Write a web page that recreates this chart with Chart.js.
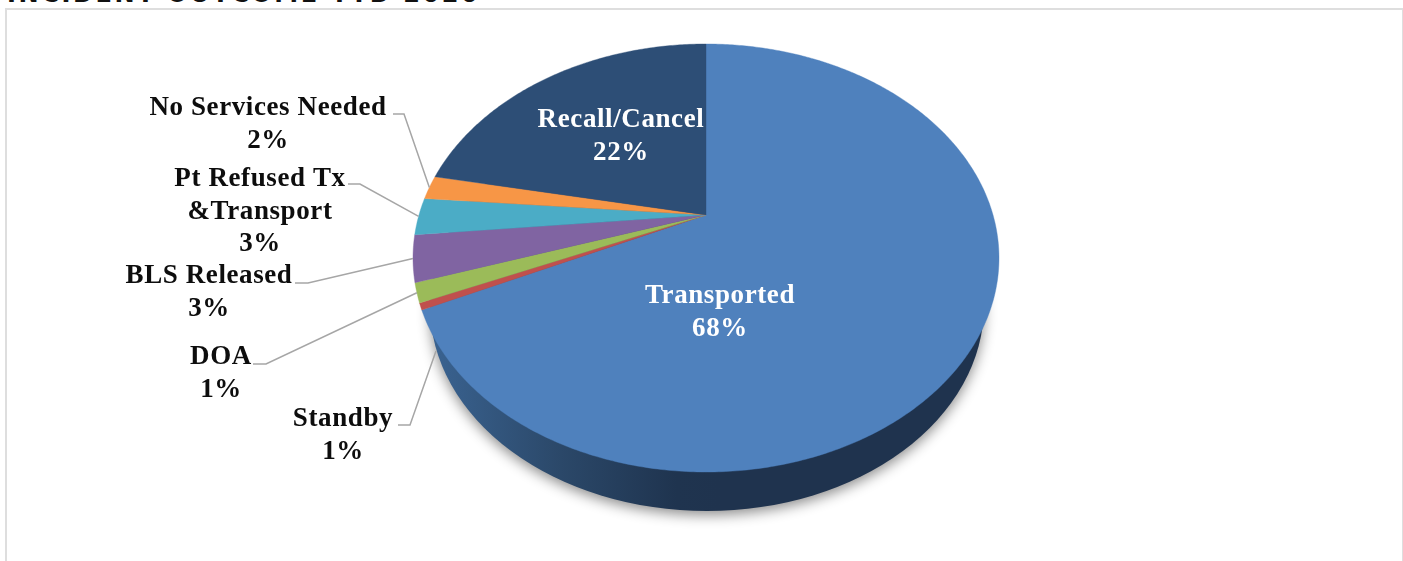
<!DOCTYPE html>
<html>
<head>
<meta charset="utf-8">
<title>Incident Outcome YTD 2020</title>
<script src="https://cdn.jsdelivr.net/npm/chart.js@4"></script>
<style>
  html, body { margin: 0; padding: 0; background: #fff; overflow: hidden; }
  #page { position: relative; width: 1403px; height: 561px; overflow: hidden; }
  #title { position: absolute; left: 7px; top: -20px; font: bold 24px "DejaVu Sans"; letter-spacing: 2.6px; color: #111; white-space: nowrap; }
  #frame { position: absolute; left: 5px; top: 8px; width: 1395px; height: 560px; border: 2px solid #dedede; }
  #pie { position: absolute; left: 0; top: 0; }
</style>
</head>
<body>
<div id="page">
  <div id="title">INCIDENT OUTCOME YTD 2020</div>
  <div id="frame"></div>
  <canvas id="pie" width="1403" height="561"></canvas>
</div>
<script>
// ─── DATA ────────────────────────────────────────────────────────
const categories = ['Transported', 'Standby', 'DOA', 'BLS Released', 'Pt Refused Tx &Transport', 'No Services Needed', 'Recall/Cancel'];
const shares     = [68.05, 0.5, 1.45, 3.5, 2.8, 1.8, 21.9];
const pctLabels  = ['68%', '1%', '1%', '3%', '3%', '2%', '22%'];
const colors     = ['#4f81bd', '#c0504d', '#9bbb59', '#8064a2', '#4bacc6', '#f79646', '#2d4e76'];

// ─── LABEL PLACEMENT ─────────────────────────────────────────────
// lines + centre x + first baseline; knee = leader line start/elbow
const labelSpots = [
  { lines: ['Transported'], x: 720, y: 303, color: '#fff' },
  { lines: ['Standby'], x: 343, y: 426, color: '#0d0d0d', knee: [398, 410, 425], end: [436, 351] },
  { lines: ['DOA'], x: 221, y: 364, color: '#0d0d0d', knee: [253, 266, 364] },
  { lines: ['BLS Released'], x: 209, y: 283, color: '#0d0d0d', knee: [295, 308, 283] },
  { lines: ['Pt Refused Tx', '&Transport'], x: 260, y: 186, color: '#0d0d0d', knee: [348, 360, 184] },
  { lines: ['No Services Needed'], x: 268, y: 115, color: '#0d0d0d', knee: [393, 404, 114] },
  { lines: ['Recall/Cancel'], x: 621, y: 127, color: '#fff' },
];
const LINE_GAP = 32.5;

// ─── TILTED PIE GEOMETRY ─────────────────────────────────────────
// Top face is an ellipse with the apex off-centre (perspective), so the
// library's arc angles get projected instead of being drawn as a circle
const face = { cx: 706, cy: 258, rx: 293, ry: 214, apexY: 215 };
const base = { cx: 707, cy: 306, rx: 277, ry: 205 };
const tilt = (face.apexY - face.cy) / face.ry;

function project(angle, r = 1) {
  const u = Math.cos(angle) * r, v = Math.sin(angle) * r;
  const d = 1 + tilt * v;
  return [
    face.cx + face.rx * u * Math.sqrt(1 - tilt * tilt) / d,
    face.cy + face.ry * (v + tilt) / d,
  ];
}

function drawWall(ctx) {
  const grad = ctx.createLinearGradient(430, 0, 720, 0);
  grad.addColorStop(0,    '#3a6391');
  grad.addColorStop(0.45, '#2b4869');
  grad.addColorStop(0.85, '#1f344f');
  grad.addColorStop(1,    '#1f334e');
  ctx.save();
  ctx.shadowColor   = 'rgba(0,0,0,0.45)';
  ctx.shadowBlur    = 13;
  ctx.shadowOffsetY = 4;
  ctx.fillStyle = grad;
  ctx.beginPath();
  ctx.ellipse(base.cx, base.cy, base.rx, base.ry, 0, 0, Math.PI * 2);
  ctx.fill();
  ctx.restore();
}

function drawSlice(ctx, arc, color) {
  const { startAngle, endAngle } = arc.getProps(['startAngle', 'endAngle'], true);
  const steps = Math.max(2, Math.ceil((endAngle - startAngle) / 0.01));
  ctx.beginPath();
  ctx.moveTo(...project(0, 0));
  for (let i = 0; i <= steps; i++) {
    ctx.lineTo(...project(startAngle + (endAngle - startAngle) * i / steps));
  }
  ctx.closePath();
  ctx.fillStyle = color;
  ctx.fill();
  ctx.strokeStyle = color;
  ctx.lineWidth = 0.4;
  ctx.stroke();
}

function drawLabels(ctx, arcs) {
  labelSpots.forEach((spot, i) => {
    if (spot.knee) {
      const { startAngle, endAngle } = arcs[i].getProps(['startAngle', 'endAngle'], true);
      const tip = spot.end || project((startAngle + endAngle) / 2);
      ctx.beginPath();
      ctx.moveTo(spot.knee[0], spot.knee[2]);
      ctx.lineTo(spot.knee[1], spot.knee[2]);
      ctx.lineTo(tip[0], tip[1]);
      ctx.strokeStyle = '#a6a6a6';
      ctx.lineWidth = 1.5;
      ctx.stroke();
    }
    ctx.font = 'bold 27px "Liberation Serif"';
    ctx.letterSpacing = '0.6px';
    ctx.textAlign = 'center';
    ctx.textBaseline = 'alphabetic';
    ctx.fillStyle = spot.color;
    [...spot.lines, pctLabels[i]].forEach((line, n) => {
      ctx.fillText(line, spot.x, spot.y + n * LINE_GAP);
    });
  });
}

// Replaces the flat circular dataset draw
const tiltedPie = {
  id: 'tiltedPie',
  beforeDatasetDraw(chart) {
    const ctx  = chart.ctx;
    const arcs = chart.getDatasetMeta(0).data;
    drawWall(ctx);
    arcs.forEach((arc, i) => drawSlice(ctx, arc, colors[i]));
    drawLabels(ctx, arcs);
    return false;
  },
};

// ─── CHART ───────────────────────────────────────────────────────
new Chart(document.getElementById('pie'), {
  type: 'pie',
  data: {
    labels: categories,
    datasets: [{ data: shares, backgroundColor: colors, borderWidth: 0 }],
  },
  options: {
    responsive: false,
    animation: false,
    plugins: { legend: { display: false }, tooltip: { enabled: false } },
  },
  plugins: [tiltedPie],
});
</script>
</body>
</html>
